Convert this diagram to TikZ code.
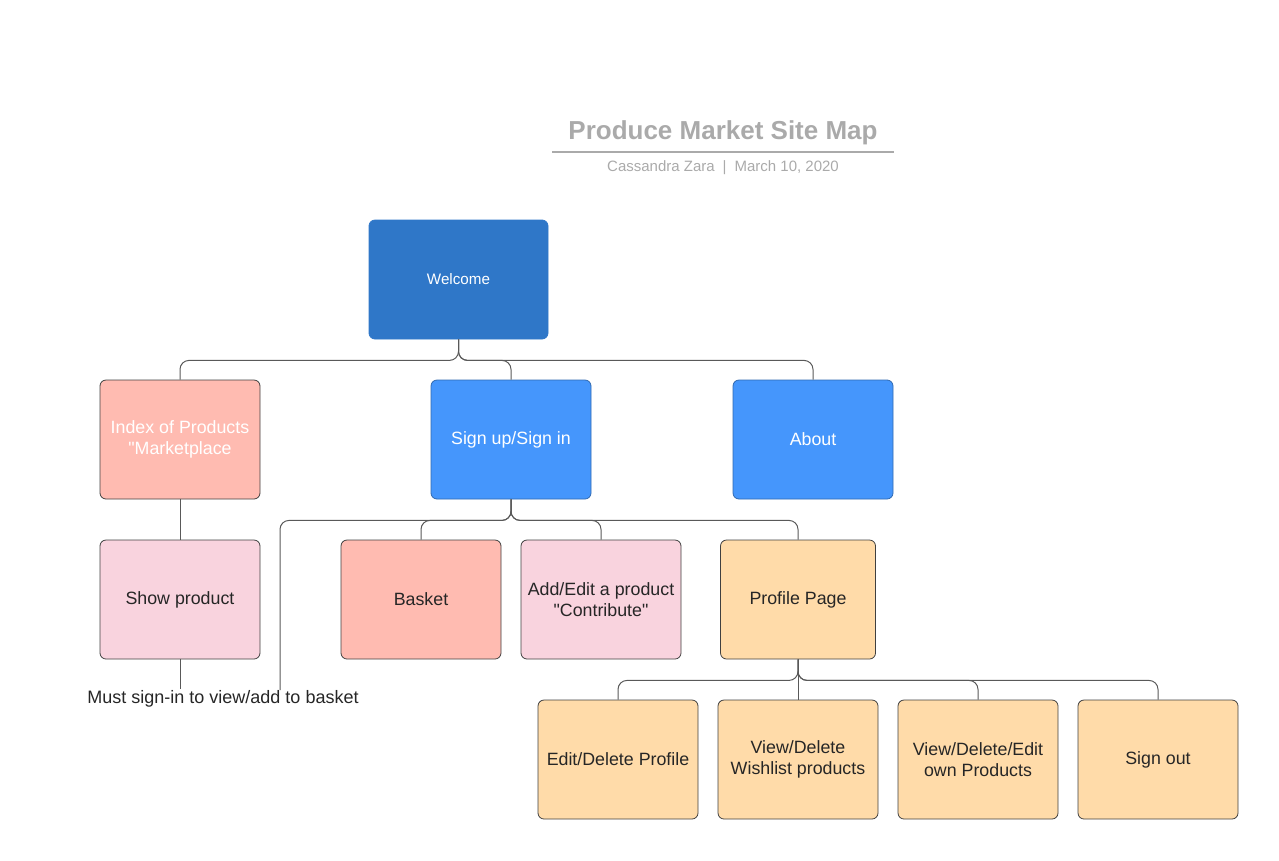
\documentclass[tikz,border=0pt]{standalone}
\usepackage{fontspec}
\setmainfont{Liberation Sans}[Ligatures=TeXOff]
\usetikzlibrary{positioning}

\definecolor{welcomeblue}{HTML}{2F77C8}
\definecolor{pageblue}{HTML}{4596FC}
\definecolor{salmon}{HTML}{FFBBB1}
\definecolor{pinkish}{HTML}{F9D3DE}
\definecolor{peach}{HTML}{FFDBA9}
\definecolor{titlegray}{HTML}{AAAAAA}

\begin{document}
\begin{tikzpicture}[x=1pt,y=-1pt,
    page/.style={draw=black!75, line width=0.8pt, rounded corners=6pt,
      minimum width=160pt, minimum height=119pt, align=center,
      font=\fontsize{17.8}{21.5}\selectfont, text=black!85},
    link/.style={draw=black!65, line width=1pt, rounded corners=9pt}]
    \useasboundingbox (0,0) rectangle (1279,860);
    %titolo
    \node[font=\fontsize{26}{30}\selectfont\bfseries, text=titlegray] (title) at (723,132.5) {Produce Market Site Map};
    \draw[titlegray, line width=1.5pt] (552,152) -- (894,152);
    \node[font=\fontsize{15}{18}\selectfont, text=titlegray] (subtitle) at (723,167.5) {Cassandra Zara\hspace{8pt}|\hspace{8pt}March 10, 2020};
    %pagine
    \node[page, fill=welcomeblue, draw=welcomeblue, minimum width=179pt, text=white, font=\fontsize{15.2}{18}\selectfont] (welcome) at (458.5,279.5) {Welcome};
    \node[page, fill=salmon, text=white] (index) at (180,439.5) {Index of Products\\"Marketplace};
    \node[page, fill=pageblue, draw=pageblue!70!black, text=white] (signin) at (511,439.5) {Sign up/Sign in};
    \node[page, fill=pageblue, draw=pageblue!70!black, text=white] (about) at (813,439.5) {About};
    \node[page, fill=pinkish] (show) at (180,599.5) {Show product};
    \node[page, fill=salmon] (basket) at (421,599.5) {Basket};
    \node[page, fill=pinkish] (contribute) at (601,599.5) {Add/Edit a product\\"Contribute"};
    \node[page, fill=peach, minimum width=155pt] (profile) at (798,599.5) {Profile Page};
    \node[page, fill=peach] (editprofile) at (618,759.5) {Edit/Delete Profile};
    \node[page, fill=peach] (wishlist) at (798,759.5) {View/Delete\\Wishlist products};
    \node[page, fill=peach] (ownproducts) at (978,759.5) {View/Delete/Edit\\own Products};
    \node[page, fill=peach] (signout) at (1158,759.5) {Sign out};
    %nota
    \node[font=\fontsize{18}{21.5}\selectfont, text=black!85, inner sep=1pt] (note) at (223,699) {Must sign-in to view/add to basket};
    \coordinate (noteend) at (280,690);
    %collegamenti
    \draw[link] (welcome.south) -- ++(0,21) -| (index.north);
    \draw[link] (welcome.south) -- ++(0,21) -| (signin.north);
    \draw[link] (welcome.south) -- ++(0,21) -| (about.north);
    \draw[link] (index) -- (show);
    \draw[link] (show.south) -- (show.south |- note.north);
    \draw[link] (signin.south) -- ++(0,21) -| (noteend);
    \draw[link] (signin.south) -- ++(0,21) -| (basket.north);
    \draw[link] (signin.south) -- ++(0,21) -| (contribute.north);
    \draw[link] (signin.south) -- ++(0,21) -| (profile.north);
    \draw[link] (profile.south) -- ++(0,21) -| (editprofile.north);
    \draw[link] (profile) -- (wishlist);
    \draw[link] (profile.south) -- ++(0,21) -| (ownproducts.north);
    \draw[link] (profile.south) -- ++(0,21) -| (signout.north);
\end{tikzpicture}
\end{document}
